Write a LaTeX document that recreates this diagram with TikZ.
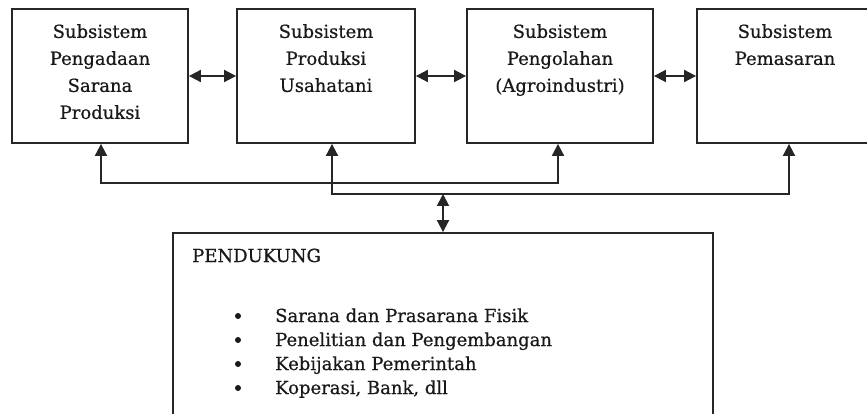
\documentclass[tikz,border=0pt]{standalone}
\usepackage{fontspec}
\setmainfont{DejaVu Serif}[FakeBold=0.6]
\usetikzlibrary{arrows.meta}
\begin{document}
\begin{tikzpicture}[x=1pt,y=-1pt,
  box/.style={draw=black!85, line width=1.8pt, fill=white, inner sep=0pt},
  lbl/.style={align=center, font=\fontsize{18}{27}\selectfont, inner sep=0pt, anchor=north, text=black!90},
  itm/.style={font=\fontsize{18}{24}\selectfont, inner sep=0pt, anchor=base west, text=black!90},
  conn/.style={line width=1.8pt, draw=black!85},
  tri/.tip={Triangle[length=12pt,width=12pt]},
  dot/.style={circle, fill=black!90, inner sep=0pt, minimum size=6pt}]
\useasboundingbox (0,0) rectangle (867,414);
\fill[white] (0,0) rectangle (867,414);
\clip (0,0) rectangle (867,414);

% top boxes
\node[box, minimum width=176pt, minimum height=134pt] (b1) at (100,76) {};
\node[box, minimum width=178pt, minimum height=134pt] (b2) at (326,76) {};
\node[box, minimum width=186pt, minimum height=134pt] (b3) at (560,76) {};
\node[box, minimum width=176pt, minimum height=134pt] (b4) at (785,76) {};

\node[lbl] (t1) at (100,24) {Subsistem\\Pengadaan\\Sarana\\Produksi};
\node[lbl] (t2) at (326,24) {Subsistem\\Produksi\\Usahatani};
\node[lbl] (t3) at (560,24) {Subsistem\\Pengolahan\\(Agroindustri)};
\node[lbl] (t4) at (785,24) {Subsistem\\Pemasaran};

% horizontal double arrows
\draw[conn, {tri}-{tri}] (b1.east) -- (b2.west);
\draw[conn, {tri}-{tri}] (b2.east) -- (b3.west);
\draw[conn, {tri}-{tri}] (b3.east) -- (b4.west);

% bottom support box
\node[box, minimum width=540pt, minimum height=207pt] (p) at (443,336.5) {};
\node[itm] (ph) at (192,262) {PENDUKUNG};

\coordinate (y1) at (0,183);
\coordinate (y2) at (0,194);
\coordinate (a1) at ([xshift=1pt]b1.south);
\coordinate (a3) at ([xshift=-2pt]b3.south);
\coordinate (a2) at ([xshift=6pt]b2.south);
\coordinate (a4) at ([xshift=4pt]b4.south);

\draw[conn, {tri}-{tri}] (a1) -- (a1 |- y1) -- (a3 |- y1) -- (a3);
\draw[conn, {tri}-{tri}] (a2) -- (a2 |- y2) -- (a4 |- y2) -- (a4);
\coordinate (v) at (p.north |- y2);
\draw[conn, {tri}-{tri}] (v) -- (p.north);

% list
\foreach \i/\txt in {0/Sarana dan Prasarana Fisik,1/Penelitian dan Pengembangan,2/Kebijakan Pemerintah,3/{Koperasi, Bank, dll}}{
  \node[dot] (d\i) at (238,{322+24*\i-6}) {};
  \node[itm] (l\i) at (275,{322+24*\i}) {\txt};
}
\end{tikzpicture}
\end{document}
